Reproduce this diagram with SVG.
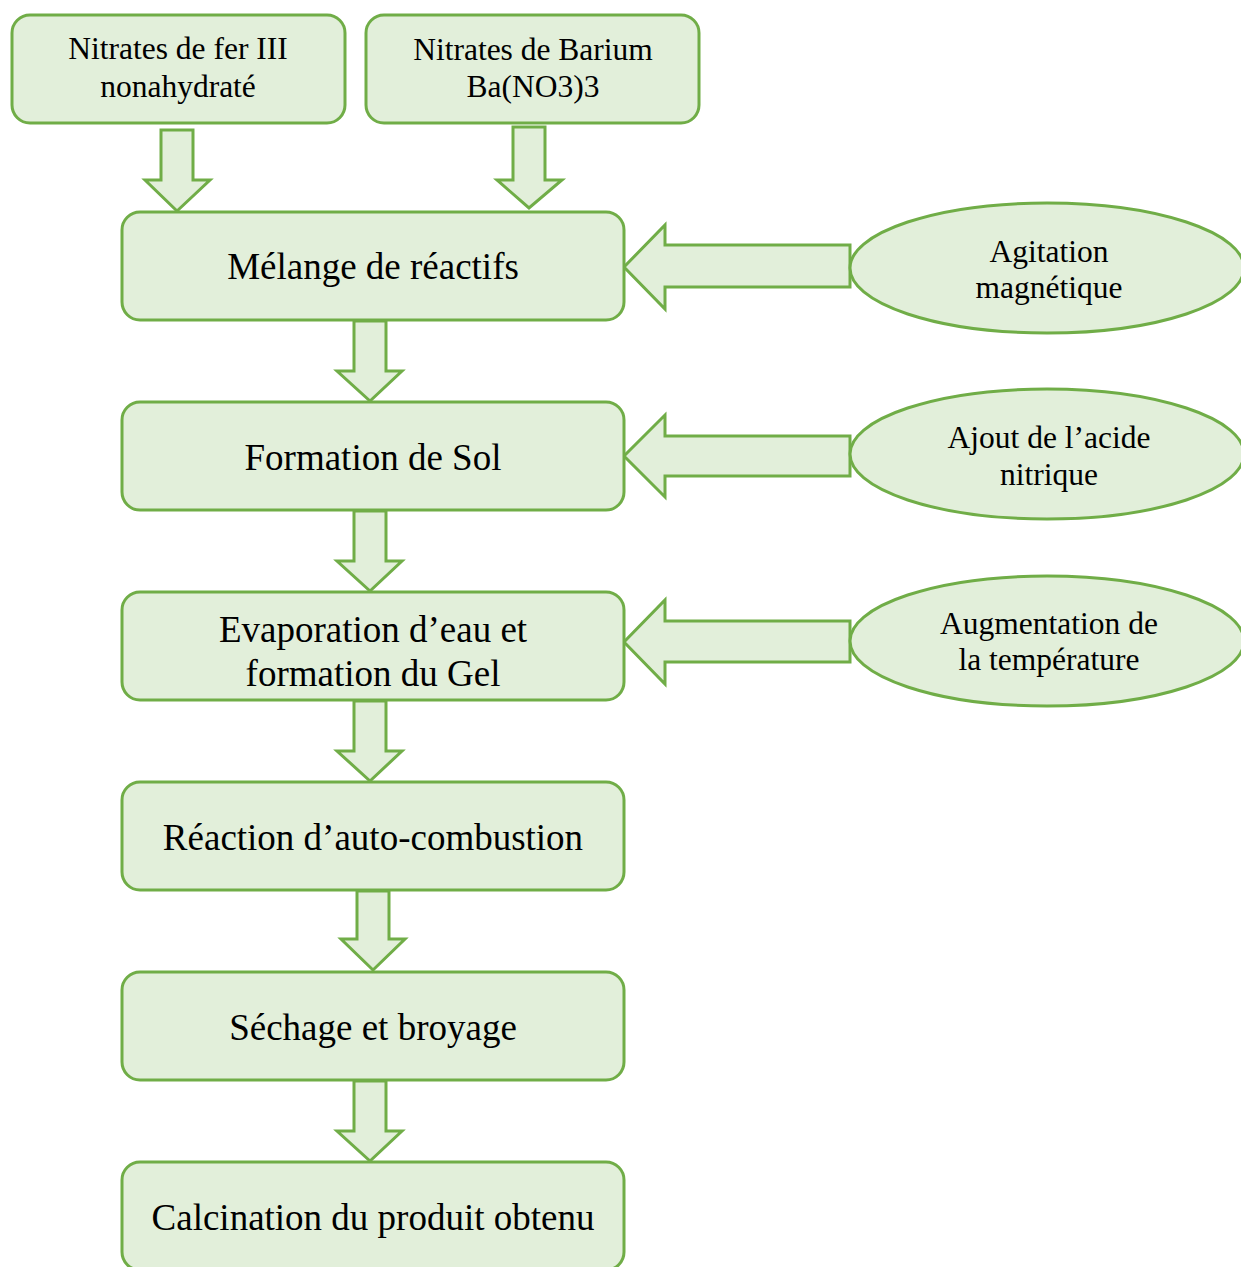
<svg xmlns="http://www.w3.org/2000/svg" width="1241" height="1267" viewBox="0 0 1241 1267">
  <style>
    .box { fill: #E2EFDA; stroke: #70AD47; stroke-width: 3; }
    .arr { fill: #E2EFDA; stroke: #70AD47; stroke-width: 3; stroke-linejoin: miter; }
    text { font-family: "Liberation Serif", "Times New Roman", serif; fill: #000; text-anchor: middle; }
    .t-sm { font-size: 31.5px; }
    .t-lg { font-size: 37px; }
  </style>
  <rect width="1241" height="1267" fill="#FFFFFF"/>

  <!-- connectors: block arrows -->
  <g id="connectors">
    <!-- inputs into the mixture -->
    <path class="arr" d="M161,130 H193 V180 H210 L177,211 L145,180 H161 Z"/>
    <path class="arr" d="M513,127 H545 V180 H562 L529,208 L497,180 H513 Z"/>
    <!-- main chain -->
    <path class="arr" d="M354,321 H386 V371 H402 L370,401 L337,371 H354 Z"/>
    <path class="arr" d="M354,511 H386 V561 H402 L370,591 L337,561 H354 Z"/>
    <path class="arr" d="M354,701 H386 V751 H402 L370,781 L337,751 H354 Z"/>
    <path class="arr" d="M357,891 H389 V939 H405 L373,970 L341,939 H357 Z"/>
    <path class="arr" d="M354,1081 H386 V1131 H402 L370,1161 L337,1131 H354 Z"/>
    <!-- side conditions -->
    <path class="arr" d="M850,245 V287 H665 V309 L624,267 L665,225 V245 Z"/>
    <path class="arr" d="M850,436 V476 H665 V497 L624,456 L665,415 V436 Z"/>
    <path class="arr" d="M850,621 V662 H665 V684 L624,642 L665,600 V621 Z"/>
  </g>

  <g id="n-fer">
    <rect class="box" x="12" y="15" width="333" height="108" rx="18"/>
    <text class="t-sm" x="178" y="59">Nitrates de fer III</text>
    <text class="t-sm" x="178" y="97">nonahydraté</text>
  </g>
  <g id="n-barium">
    <rect class="box" x="366" y="15" width="333" height="108" rx="18"/>
    <text class="t-sm" x="533" y="60">Nitrates de Barium</text>
    <text class="t-sm" x="533" y="97">Ba(NO3)3</text>
  </g>

  <g id="n-melange">
    <rect class="box" x="122" y="212" width="502" height="108" rx="18"/>
    <text class="t-lg" x="373" y="279">Mélange de réactifs</text>
  </g>
  <g id="n-sol">
    <rect class="box" x="122" y="402" width="502" height="108" rx="18"/>
    <text class="t-lg" x="373" y="470">Formation de Sol</text>
  </g>
  <g id="n-gel">
    <rect class="box" x="122" y="592" width="502" height="108" rx="18"/>
    <text class="t-lg" x="373" y="642">Evaporation d’eau et</text>
    <text class="t-lg" x="373" y="686">formation du Gel</text>
  </g>
  <g id="n-combustion">
    <rect class="box" x="122" y="782" width="502" height="108" rx="18"/>
    <text class="t-lg" x="373" y="850">Réaction d’auto-combustion</text>
  </g>
  <g id="n-sechage">
    <rect class="box" x="122" y="972" width="502" height="108" rx="18"/>
    <text class="t-lg" x="373" y="1040">Séchage et broyage</text>
  </g>
  <g id="n-calcination">
    <rect class="box" x="122" y="1162" width="502" height="108" rx="18"/>
    <text class="t-lg" x="373" y="1230">Calcination du produit obtenu</text>
  </g>

  <g id="n-agitation">
    <ellipse class="box" cx="1047" cy="268" rx="197" ry="65"/>
    <text class="t-sm" x="1049" y="262">Agitation</text>
    <text class="t-sm" x="1049" y="298">magnétique</text>
  </g>
  <g id="n-acide">
    <ellipse class="box" cx="1047" cy="454" rx="197" ry="65"/>
    <text class="t-sm" x="1049" y="448">Ajout de l’acide</text>
    <text class="t-sm" x="1049" y="485">nitrique</text>
  </g>
  <g id="n-temperature">
    <ellipse class="box" cx="1047" cy="641" rx="197" ry="65"/>
    <text class="t-sm" x="1049" y="634">Augmentation de</text>
    <text class="t-sm" x="1049" y="670">la température</text>
  </g>
</svg>
